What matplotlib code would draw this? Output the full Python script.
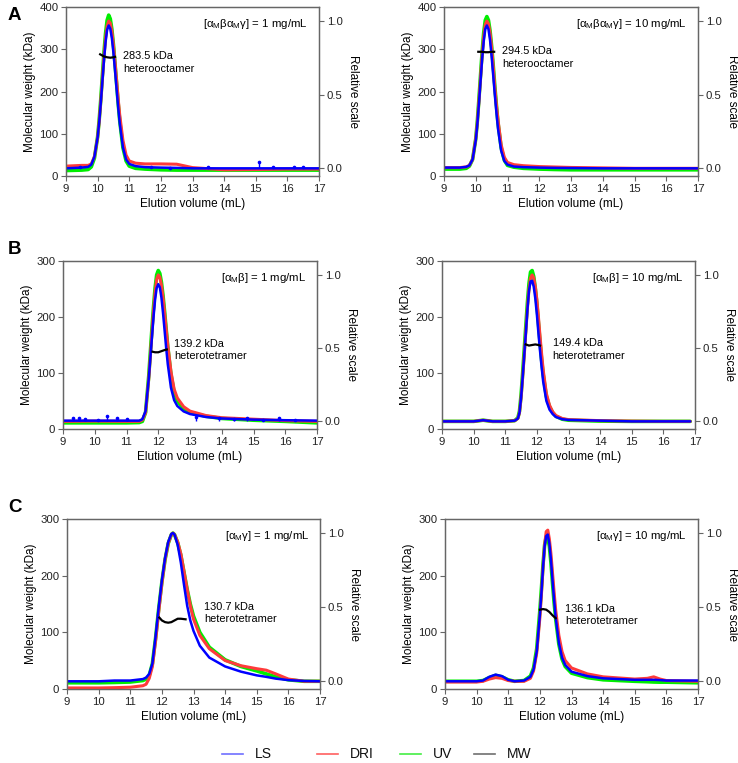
import matplotlib
matplotlib.use("Agg")
import matplotlib.pyplot as plt
from matplotlib.lines import Line2D

plt.rcParams['font.family'] = ['Liberation Sans', 'DejaVu Sans']
plt.rcParams['mathtext.fontset'] = 'custom'
plt.rcParams['mathtext.rm'] = 'Liberation Sans'
plt.rcParams['mathtext.it'] = 'Liberation Sans'
plt.rcParams['mathtext.default'] = 'regular'

# ---------------- data (relative scale for LS / DRI / UV, kDa for MW) -------------
# Panel A left: [aM b aM g] = 1 mg/mL
a1_x = [9.0, 9.5, 9.7, 9.8, 9.9, 10.0, 10.05, 10.1, 10.15, 10.2, 10.25, 10.3, 10.35, 10.4, 10.45,
        10.5, 10.55, 10.6, 10.65, 10.7, 10.8, 10.9, 11.0, 11.2, 11.5, 12.0, 12.5, 13.0, 14.0, 15.0, 16.0, 17.0]
a1_ls = [0.0, 0.005, 0.01, 0.025, 0.08, 0.21, 0.315, 0.445, 0.59, 0.73, 0.855, 0.94, 0.97, 0.948, 0.883,
         0.784, 0.664, 0.537, 0.414, 0.305, 0.143, 0.06, 0.03, 0.015, 0.008, 0.005, 0.003, 0.0, 0.0, 0.0, 0.0, 0.0]
a1_dri = [0.015, 0.02, 0.02, 0.03, 0.08, 0.21, 0.32, 0.455, 0.605, 0.755, 0.88, 0.965, 1.0, 0.985, 0.93,
          0.835, 0.72, 0.595, 0.47, 0.36, 0.19, 0.09, 0.05, 0.035, 0.03, 0.03, 0.028, 0.005, -0.01, -0.008, -0.005, -0.005]
a1_uv = [-0.015, -0.012, -0.008, 0.01, 0.07, 0.215, 0.33, 0.47, 0.63, 0.785, 0.915, 1.005, 1.04, 1.015, 0.945,
         0.84, 0.71, 0.575, 0.44, 0.32, 0.14, 0.05, 0.015, 0.0, -0.005, -0.01, -0.012, -0.012, -0.012, -0.012, -0.012, -0.012]
a1_mw_x = [10.08, 10.2, 10.3, 10.4, 10.5, 10.55]
a1_mw = [288, 283, 281, 280, 281, 282]
a1_spk_x = [9.45, 11.7, 12.3, 13.5, 15.1, 15.55, 16.2, 16.5]
a1_spk = [0.012, 0.01, 0.005, 0.008, 0.04, 0.01, 0.01, 0.008]

# Panel A right: [aM b aM g] = 10 mg/mL
a2_x = a1_x
a2_ls = [0.005, 0.005, 0.01, 0.02, 0.06, 0.19, 0.3, 0.44, 0.59, 0.74, 0.86, 0.945, 0.97, 0.945, 0.87,
         0.76, 0.63, 0.5, 0.38, 0.27, 0.12, 0.05, 0.025, 0.012, 0.008, 0.005, 0.003, 0.002, 0.0, 0.0, 0.0, 0.0]
a2_dri = [0.005, 0.005, 0.01, 0.02, 0.06, 0.2, 0.31, 0.455, 0.61, 0.765, 0.89, 0.975, 1.0, 0.98, 0.92,
          0.82, 0.69, 0.55, 0.43, 0.33, 0.16, 0.075, 0.04, 0.025, 0.018, 0.012, 0.009, 0.006, 0.003, 0.0, 0.0, 0.0]
a2_uv = [-0.005, -0.005, 0.0, 0.015, 0.06, 0.2, 0.32, 0.47, 0.63, 0.79, 0.92, 1.005, 1.03, 1.005, 0.935,
         0.83, 0.7, 0.56, 0.43, 0.31, 0.14, 0.055, 0.02, 0.008, 0.0, -0.005, -0.008, -0.01, -0.01, -0.01, -0.01, -0.01]
a2_mw_x = [10.08, 10.2, 10.3, 10.4, 10.5, 10.58]
a2_mw = [294, 294, 293, 293, 294, 294]

# Panel B left: [aM b] = 1 mg/mL
b1_x = [9.0, 10.0, 11.0, 11.4, 11.5, 11.6, 11.7, 11.75, 11.8, 11.85, 11.9, 11.95, 12.0, 12.05, 12.1, 12.15,
        12.2, 12.25, 12.3, 12.4, 12.5, 12.6, 12.8, 13.0, 13.5, 14.0, 15.0, 16.0, 17.0]
b1_ls = [0.005, 0.005, 0.005, 0.005, 0.015, 0.07, 0.29, 0.43, 0.57, 0.71, 0.83, 0.91, 0.937, 0.915, 0.845, 0.74,
         0.62, 0.5, 0.39, 0.23, 0.145, 0.105, 0.068, 0.05, 0.03, 0.02, 0.012, 0.008, 0.005]
b1_dri = [0.0, 0.002, 0.0, 0.0, 0.01, 0.06, 0.29, 0.44, 0.6, 0.75, 0.88, 0.97, 1.0, 0.985, 0.93, 0.845,
          0.74, 0.63, 0.52, 0.34, 0.22, 0.16, 0.1, 0.07, 0.04, 0.025, 0.015, 0.005, 0.0]
b1_uv = [-0.01, -0.01, -0.01, -0.008, 0.0, 0.06, 0.31, 0.47, 0.63, 0.78, 0.91, 1.0, 1.03, 1.01, 0.95, 0.86,
         0.75, 0.63, 0.51, 0.32, 0.2, 0.14, 0.085, 0.06, 0.035, 0.02, 0.008, 0.0, -0.01]
b1_mw_x = [11.82, 11.9, 12.0, 12.1, 12.2, 12.27]
b1_mw = [138, 137, 137, 139, 141, 142]
b1_spk_x = [9.3, 9.5, 9.7, 10.1, 10.4, 10.7, 11.0, 13.2, 13.9, 14.4, 14.8, 15.3, 15.8, 16.3]
b1_spk = [0.02, 0.025, 0.015, 0.012, 0.035, 0.02, 0.015, 0.03, 0.025, 0.018, 0.02, 0.012, 0.025, 0.012]

# Panel B right: [aM b] = 10 mg/mL
b2_x = [9.0, 10.0, 10.3, 10.6, 11.0, 11.3, 11.4, 11.45, 11.5, 11.55, 11.6, 11.65, 11.7, 11.75, 11.8, 11.85,
        11.9, 11.95, 12.0, 12.05, 12.1, 12.15, 12.2, 12.3, 12.4, 12.5, 12.6, 12.8, 13.0, 14.0, 15.0, 16.0, 16.85]
b2_ls = [0.0, 0.0, 0.008, 0.0, 0.0, 0.005, 0.02, 0.06, 0.16, 0.3, 0.45, 0.6, 0.76, 0.89, 0.955, 0.96,
         0.92, 0.84, 0.73, 0.6, 0.48, 0.37, 0.27, 0.14, 0.08, 0.05, 0.03, 0.015, 0.01, 0.005, 0.0, 0.0, 0.0]
b2_dri = [0.0, 0.0, 0.008, 0.0, 0.0, 0.005, 0.02, 0.06, 0.16, 0.3, 0.45, 0.61, 0.77, 0.9, 0.98, 1.0,
          0.98, 0.92, 0.83, 0.71, 0.58, 0.46, 0.35, 0.19, 0.11, 0.065, 0.04, 0.02, 0.012, 0.005, 0.002, 0.0, 0.0]
b2_uv = [0.0, 0.0, 0.008, 0.0, 0.0, 0.005, 0.025, 0.07, 0.18, 0.33, 0.49, 0.65, 0.81, 0.94, 1.02, 1.03,
         0.99, 0.91, 0.8, 0.67, 0.54, 0.42, 0.32, 0.17, 0.1, 0.06, 0.035, 0.015, 0.008, 0.002, 0.0, 0.0, 0.0]
b2_mw_x = [11.65, 11.75, 11.85, 11.95, 12.05, 12.1]
b2_mw = [151, 149, 150, 151, 150, 149]

# Panel C left: [aM g] = 1 mg/mL
c1_x = [9.0, 10.0, 10.5, 11.0, 11.4, 11.5, 11.6, 11.7, 11.8, 11.9, 12.0, 12.1, 12.2, 12.3, 12.35, 12.4,
        12.5, 12.6, 12.7, 12.8, 12.9, 13.0, 13.2, 13.5, 14.0, 14.5, 15.0, 15.3, 15.6, 16.0, 16.5, 17.0]
c1_ls = [0.0, 0.0, 0.005, 0.005, 0.015, 0.025, 0.05, 0.12, 0.3, 0.5, 0.68, 0.83, 0.94, 0.995, 1.0, 0.99,
         0.92, 0.8, 0.65, 0.51, 0.41, 0.34, 0.24, 0.16, 0.1, 0.065, 0.04, 0.03, 0.018, 0.008, 0.002, 0.0]
c1_dri = [-0.045, -0.045, -0.043, -0.04, -0.03, -0.02, 0.02, 0.1, 0.27, 0.47, 0.66, 0.82, 0.93, 0.99, 1.0, 0.99,
          0.94, 0.86, 0.74, 0.62, 0.51, 0.42, 0.31, 0.22, 0.14, 0.105, 0.085, 0.075, 0.05, 0.015, 0.0, 0.0]
c1_uv = [-0.01, -0.01, -0.008, -0.005, 0.005, 0.015, 0.04, 0.12, 0.29, 0.49, 0.67, 0.82, 0.93, 0.99, 1.0, 0.99,
         0.935, 0.85, 0.735, 0.62, 0.52, 0.44, 0.33, 0.23, 0.145, 0.1, 0.07, 0.05, 0.03, 0.01, 0.0, 0.0]
c1_mw_x = [11.92, 12.0, 12.1, 12.2, 12.3, 12.4, 12.5, 12.6, 12.75]
c1_mw = [126, 121, 118, 117, 118, 121, 124, 124, 123]

# Panel C right: [aM g] = 10 mg/mL
c2_x = [9.0, 10.0, 10.2, 10.4, 10.6, 10.8, 11.0, 11.2, 11.5, 11.7, 11.8, 11.9, 12.0, 12.05, 12.1, 12.15,
        12.2, 12.25, 12.3, 12.35, 12.4, 12.45, 12.5, 12.6, 12.7, 12.8, 13.0, 13.5, 14.0, 15.0, 15.4, 15.6,
        15.8, 16.0, 17.0]
c2_ls = [0.0, 0.0, 0.005, 0.03, 0.045, 0.035, 0.01, 0.0, 0.005, 0.03, 0.08, 0.2, 0.45, 0.6, 0.77, 0.91,
         0.98, 0.99, 0.93, 0.82, 0.68, 0.55, 0.43, 0.26, 0.16, 0.11, 0.065, 0.035, 0.02, 0.01, 0.01, 0.01,
         0.008, 0.005, 0.005]
c2_dri = [-0.005, -0.005, 0.0, 0.015, 0.025, 0.02, 0.005, 0.0, 0.0, 0.02, 0.07, 0.19, 0.43, 0.59, 0.77, 0.92,
          1.01, 1.02, 0.96, 0.86, 0.73, 0.6, 0.48, 0.31, 0.2, 0.14, 0.09, 0.05, 0.03, 0.015, 0.02, 0.03,
          0.015, 0.005, 0.0]
c2_uv = [0.0, 0.0, 0.005, 0.025, 0.04, 0.03, 0.01, 0.0, 0.005, 0.035, 0.09, 0.22, 0.48, 0.63, 0.79, 0.92,
         0.975, 0.97, 0.91, 0.8, 0.66, 0.53, 0.42, 0.25, 0.15, 0.1, 0.055, 0.025, 0.01, 0.0, -0.003, -0.005,
         -0.006, -0.006, -0.01]
c2_mw_x = [12.0, 12.1, 12.2, 12.3, 12.4, 12.5]
c2_mw = [140, 141, 140, 136, 130, 125]

titles = [r'[$\alpha_{\rm M}\beta\alpha_{\rm M}\gamma$] = 1 mg/mL',
          r'[$\alpha_{\rm M}\beta\alpha_{\rm M}\gamma$] = 10 mg/mL',
          r'[$\alpha_{\rm M}\beta$] = 1 mg/mL',
          r'[$\alpha_{\rm M}\beta$] = 10 mg/mL',
          r'[$\alpha_{\rm M}\gamma$] = 1 mg/mL',
          r'[$\alpha_{\rm M}\gamma$] = 10 mg/mL']
mw_labels = ['283.5 kDa\nheterooctamer', '294.5 kDa\nheterooctamer',
             '139.2 kDa\nheterotetramer', '149.4 kDa\nheterotetramer',
             '130.7 kDa\nheterotetramer', '136.1 kDa\nheterotetramer']
label_pos = [(10.8, 295), (10.82, 307), (12.5, 161), (12.5, 162), (13.33, 154), (12.81, 150)]
ymax_list = [400, 400, 300, 300, 300, 300]
legend_labels = ['LS', 'DRI', 'UV', 'MW']

panels = [
    (a1_x, a1_ls, a1_dri, a1_uv, a1_mw_x, a1_mw, a1_spk_x, a1_spk),
    (a2_x, a2_ls, a2_dri, a2_uv, a2_mw_x, a2_mw, None, None),
    (b1_x, b1_ls, b1_dri, b1_uv, b1_mw_x, b1_mw, b1_spk_x, b1_spk),
    (b2_x, b2_ls, b2_dri, b2_uv, b2_mw_x, b2_mw, None, None),
    (c1_x, c1_ls, c1_dri, c1_uv, c1_mw_x, c1_mw, None, None),
    (c2_x, c2_ls, c2_dri, c2_uv, c2_mw_x, c2_mw, None, None),
]

BLUE = '#0000ff'
RED = '#ff3b3b'
GREEN = '#00ee00'
SPINE = '#666666'
TICK_FS = 8.2
LAB_FS = 8.5
ANN_FS = 7.9

W, H = 738, 763
fig = plt.figure(figsize=(W / 100, H / 100), dpi=100)

# axes boxes in pixels: (left, top, right, bottom)
boxes = [(66, 7, 319, 176), (444, 7, 698, 176),
         (63, 261, 317, 429), (442, 261, 695, 429),
         (67, 519, 320, 689), (445, 519, 698, 689)]

for i, (box, data) in enumerate(zip(boxes, panels)):
    l, t, r, b = box
    ax = fig.add_axes([l / W, 1 - b / H, (r - l) / W, (b - t) / H])
    ax2 = ax.twinx()
    x, ls, dri, uv, mwx, mw, spx, sp = data
    ymax = ymax_list[i]
    ax.set_xlim(9, 17)
    ax.set_ylim(0, ymax)
    ax2.set_ylim(-0.052, 1.095)
    ax2.plot(x, uv, color=GREEN, lw=2.6, solid_capstyle='round', zorder=2)
    ax2.plot(x, dri, color=RED, lw=2.2, solid_capstyle='round', zorder=3)
    ax2.plot(x, ls, color=BLUE, lw=1.8, solid_capstyle='round', zorder=4)
    if spx is not None:
        ax2.vlines(spx, [0.002] * len(spx), sp, color=BLUE, lw=1.0, zorder=4)
        ax2.plot(spx, sp, ls='none', marker='o', ms=1.6, color=BLUE, zorder=4)
    ax.plot(mwx, mw, color='black', lw=1.6, zorder=5)
    ax.set_zorder(ax2.get_zorder() + 1)
    ax.patch.set_visible(False)

    ax.set_xticks(range(9, 18))
    ax.set_yticks(range(0, ymax + 1, 100))
    ax2.set_yticks([0.0, 0.5, 1.0])
    ax2.set_yticklabels(['0.0', '0.5', '1.0'])
    for a in (ax, ax2):
        a.tick_params(labelsize=TICK_FS, length=3.5, width=0.8, color=SPINE, pad=2, labelcolor='#222222')
        for s in a.spines.values():
            s.set_color(SPINE)
            s.set_linewidth(0.9)
    ax.set_xlabel('Elution volume (mL)', fontsize=LAB_FS, labelpad=3)
    ax.set_ylabel('Molecular weight (kDa)', fontsize=LAB_FS, labelpad=2)
    ax2.set_ylabel('Relative scale', fontsize=LAB_FS, rotation=270, labelpad=12)
    ax.text(16.65, ymax * 0.9, titles[i], fontsize=ANN_FS + 0.3, ha='right', va='center')
    lx, ly = label_pos[i]
    ax.text(lx, ly, mw_labels[i], fontsize=ANN_FS, ha='left', va='top', linespacing=1.3)

for letter, y in [('A', 15), ('B', 250), ('C', 508)]:
    fig.text(8 / W, 1 - y / H, letter, fontsize=13.5, fontweight='bold', ha='left', va='center')

# legend (drawn manually to match the spacing of the original)
leg_colors = ['#7070ff', '#ff6060', '#44ee44', '#6f6f6f']
leg_x0 = [222, 317, 400, 474]
leg_y = 1 - 754 / H
for lab, col, x0 in zip(legend_labels, leg_colors, leg_x0):
    fig.add_artist(Line2D([x0 / W, (x0 + 21) / W], [leg_y, leg_y], color=col, lw=1.2,
                          transform=fig.transFigure))
    fig.text((x0 + 33) / W, leg_y, lab, fontsize=10, ha='left', va='center', color='#111111')

fig.savefig('out.png', dpi=100)
